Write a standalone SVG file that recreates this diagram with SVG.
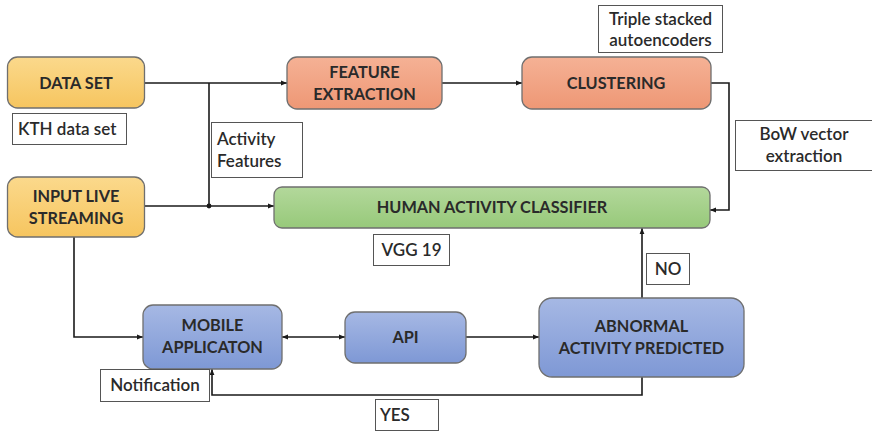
<svg xmlns="http://www.w3.org/2000/svg" width="872" height="433" viewBox="0 0 872 433">
  <defs>
    <linearGradient id="gY" x1="0" y1="0" x2="0" y2="1">
      <stop offset="0" stop-color="#FBD98C"/>
      <stop offset="1" stop-color="#F6C55F"/>
    </linearGradient>
    <linearGradient id="gO" x1="0" y1="0" x2="0" y2="1">
      <stop offset="0" stop-color="#F5B195"/>
      <stop offset="1" stop-color="#EE9775"/>
    </linearGradient>
    <linearGradient id="gG" x1="0" y1="0" x2="0" y2="1">
      <stop offset="0" stop-color="#B3D89B"/>
      <stop offset="1" stop-color="#97C97A"/>
    </linearGradient>
    <linearGradient id="gB" x1="0" y1="0" x2="0" y2="1">
      <stop offset="0" stop-color="#A6B8E4"/>
      <stop offset="1" stop-color="#7E98D5"/>
    </linearGradient>
    <marker id="arr" viewBox="0 0 10 10" refX="10" refY="5" markerWidth="6" markerHeight="6" markerUnits="userSpaceOnUse" orient="auto-start-reverse">
      <path d="M0,1 L10,5 L0,9 z" fill="#1a1a1a"/>
    </marker>
  </defs>
  <style>
    .node { stroke: #6f6f6f; stroke-width: 1.3; }
    .t { font-family: Lato, "Liberation Sans", sans-serif; font-size: 16.3px; font-weight: bold; fill: #2a2a2a; text-anchor: middle; }
    .lbl { fill: #fff; stroke: #555; stroke-width: 1; }
    .lt { font-family: Lato, "Liberation Sans", sans-serif; font-size: 17px; font-weight: 600; fill: #2a2a2a; }
    .c { fill: none; stroke: #1a1a1a; stroke-width: 1.6; }
  </style>
  <rect width="872" height="433" fill="#fff"/>

  <!-- connectors -->
  <g id="connectors">
    <path class="c" d="M144,83 H287" marker-end="url(#arr)"/>
    <path class="c" d="M209,83 V206"/>
    <path class="c" d="M144,206 H274" marker-end="url(#arr)"/>
    <circle cx="209" cy="206" r="2.4" fill="#1a1a1a"/>
    <path class="c" d="M442,83 H522" marker-end="url(#arr)"/>
    <path class="c" d="M711,83 H729 V210 H710" marker-end="url(#arr)"/>
    <path class="c" d="M642,298 V228" marker-end="url(#arr)"/>
    <path class="c" d="M74,237 V337 H143" marker-end="url(#arr)"/>
    <path class="c" d="M282,337 H345" marker-start="url(#arr)" marker-end="url(#arr)"/>
    <path class="c" d="M466,337 H539" marker-end="url(#arr)"/>
    <path class="c" d="M642,377 V395 H212 V369" marker-end="url(#arr)"/>
  </g>

  <!-- nodes -->
  <g id="data-set">
    <rect class="node" x="7.5" y="57" width="137" height="51" rx="10" fill="url(#gY)"/>
    <text class="t" x="76" y="88.5">DATA SET</text>
  </g>
  <g id="input-live-streaming">
    <rect class="node" x="7.5" y="177" width="137" height="60" rx="10" fill="url(#gY)"/>
    <text class="t" x="76" y="202">INPUT LIVE</text>
    <text class="t" x="76" y="224">STREAMING</text>
  </g>
  <g id="feature-extraction">
    <rect class="node" x="287" y="57" width="155" height="52" rx="10" fill="url(#gO)"/>
    <text class="t" x="364.5" y="78">FEATURE</text>
    <text class="t" x="364.5" y="100">EXTRACTION</text>
  </g>
  <g id="clustering">
    <rect class="node" x="522" y="57" width="189" height="52" rx="10" fill="url(#gO)"/>
    <text class="t" x="616" y="89">CLUSTERING</text>
  </g>
  <g id="human-activity-classifier">
    <rect class="node" x="274" y="187" width="436" height="41" rx="8" fill="url(#gG)"/>
    <text class="t" x="492" y="213">HUMAN ACTIVITY CLASSIFIER</text>
  </g>
  <g id="mobile-application">
    <rect class="node" x="143" y="305" width="139" height="64" rx="10" fill="url(#gB)"/>
    <text class="t" x="212.5" y="331">MOBILE</text>
    <text class="t" x="212.5" y="353">APPLICATON</text>
  </g>
  <g id="api">
    <rect class="node" x="345" y="312" width="121" height="51" rx="10" fill="url(#gB)"/>
    <text class="t" x="405.5" y="343">API</text>
  </g>
  <g id="abnormal-activity-predicted">
    <rect class="node" x="539" y="298" width="205" height="79" rx="13" fill="url(#gB)"/>
    <text class="t" x="641.5" y="332">ABNORMAL</text>
    <text class="t" x="641.5" y="354">ACTIVITY PREDICTED</text>
  </g>

  <!-- annotation labels -->
  <g id="label-kth">
    <rect class="lbl" x="12.5" y="113.5" width="114" height="31"/>
    <text class="lt" x="18" y="135">KTH data set</text>
  </g>
  <g id="label-activity-features">
    <rect class="lbl" x="211.5" y="122.5" width="91" height="55"/>
    <text class="lt" x="217" y="145">Activity</text>
    <text class="lt" x="217" y="167">Features</text>
  </g>
  <g id="label-triple">
    <rect class="lbl" x="598.5" y="5.5" width="124" height="47"/>
    <text class="lt" x="660.5" y="25" text-anchor="middle">Triple stacked</text>
    <text class="lt" x="660.5" y="46" text-anchor="middle">autoencoders</text>
  </g>
  <g id="label-bow">
    <rect class="lbl" x="735.5" y="120.5" width="140" height="50"/>
    <text class="lt" x="804" y="140" text-anchor="middle">BoW vector</text>
    <text class="lt" x="804" y="162" text-anchor="middle">extraction</text>
  </g>
  <g id="label-vgg">
    <rect class="lbl" x="373.5" y="234.5" width="76" height="31"/>
    <text class="lt" x="411.5" y="256" text-anchor="middle">VGG 19</text>
  </g>
  <g id="label-no">
    <rect class="lbl" x="646.5" y="253.5" width="43" height="31"/>
    <text class="lt" x="668" y="275" text-anchor="middle">NO</text>
  </g>
  <g id="label-notification">
    <rect class="lbl" x="100.5" y="369.5" width="109" height="32"/>
    <text class="lt" x="155" y="391" text-anchor="middle">Notification</text>
  </g>
  <g id="label-yes">
    <rect class="lbl" x="375.5" y="399.5" width="63" height="31"/>
    <text class="lt" x="380" y="421">YES</text>
  </g>
</svg>
